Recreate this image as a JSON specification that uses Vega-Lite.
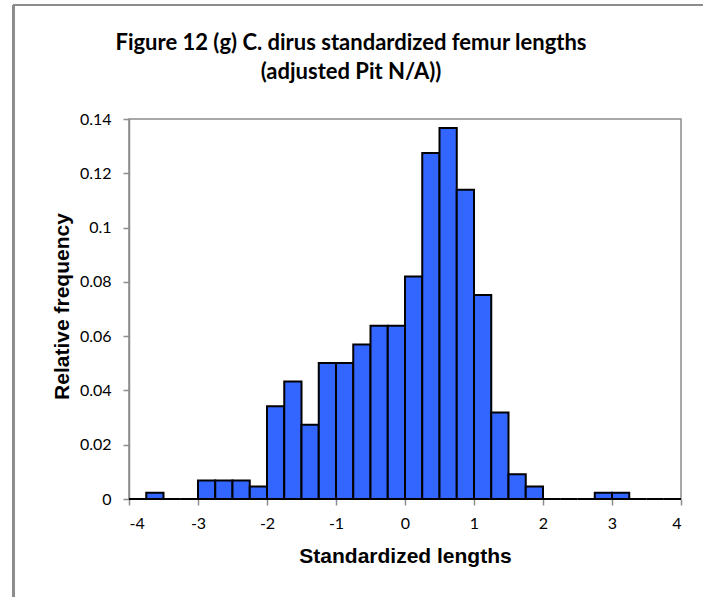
{
  "$schema": "https://vega.github.io/schema/vega-lite/v6.json",
  "width": 552,
  "height": 380,
  "autosize": {"type": "none"},
  "padding": {"left": 129, "top": 119, "right": 22, "bottom": 98},
  "background": "white",
  "config": {
    "view": {"stroke": "#8c8c8c", "strokeWidth": 1.5},
    "axis": {"grid": false, "domainColor": "#8c8c8c", "tickColor": "#8c8c8c", "domainWidth": 1.5, "tickWidth": 1.5, "labelFont": "Lato", "labelFontSize": 16, "labelColor": "black", "titleFont": "Liberation Sans", "titleFontSize": 21, "titleFontWeight": "bold", "titleColor": "black"}
  },
  "title": {
    "text": ["Figure 12 (g) C. dirus standardized femur lengths", "(adjusted Pit N/A))"],
    "font": "Lato",
    "fontSize": 22,
    "fontWeight": "bold",
    "color": "black",
    "anchor": "middle",
    "frame": "group",
    "baseline": "alphabetic",
    "dx": -54,
    "offset": -97,
    "lineHeight": 29
  },
  "data": {
    "values": [
      {"start": -4.0, "end": -3.75, "freq": 0},
      {"start": -3.75, "end": -3.5, "freq": 0.0023},
      {"start": -3.5, "end": -3.25, "freq": 0},
      {"start": -3.25, "end": -3.0, "freq": 0},
      {"start": -3.0, "end": -2.75, "freq": 0.0068},
      {"start": -2.75, "end": -2.5, "freq": 0.0068},
      {"start": -2.5, "end": -2.25, "freq": 0.0068},
      {"start": -2.25, "end": -2.0, "freq": 0.0046},
      {"start": -2.0, "end": -1.75, "freq": 0.0342},
      {"start": -1.75, "end": -1.5, "freq": 0.0433},
      {"start": -1.5, "end": -1.25, "freq": 0.0274},
      {"start": -1.25, "end": -1.0, "freq": 0.0501},
      {"start": -1.0, "end": -0.75, "freq": 0.0501},
      {"start": -0.75, "end": -0.5, "freq": 0.0569},
      {"start": -0.5, "end": -0.25, "freq": 0.0638},
      {"start": -0.25, "end": 0.0, "freq": 0.0638},
      {"start": 0.0, "end": 0.25, "freq": 0.0820},
      {"start": 0.25, "end": 0.5, "freq": 0.1275},
      {"start": 0.5, "end": 0.75, "freq": 0.1367},
      {"start": 0.75, "end": 1.0, "freq": 0.1139},
      {"start": 1.0, "end": 1.25, "freq": 0.0752},
      {"start": 1.25, "end": 1.5, "freq": 0.0319},
      {"start": 1.5, "end": 1.75, "freq": 0.0091},
      {"start": 1.75, "end": 2.0, "freq": 0.0046},
      {"start": 2.0, "end": 2.25, "freq": 0},
      {"start": 2.25, "end": 2.5, "freq": 0},
      {"start": 2.5, "end": 2.75, "freq": 0},
      {"start": 2.75, "end": 3.0, "freq": 0.0023},
      {"start": 3.0, "end": 3.25, "freq": 0.0023},
      {"start": 3.25, "end": 3.5, "freq": 0},
      {"start": 3.5, "end": 3.75, "freq": 0},
      {"start": 3.75, "end": 4.0, "freq": 0}
    ]
  },
  "layer": [
    {
      "mark": {"type": "rect", "fill": "#3366FF", "stroke": "black", "strokeWidth": 2},
      "encoding": {
        "x": {
          "field": "start", "type": "quantitative",
          "scale": {"domain": [-4, 4], "nice": false, "zero": false},
          "axis": {"values": [-4, -3, -2, -1, 0, 1, 2, 3, 4], "labelExpr": "'' + datum.value", "title": "Standardized lengths", "tickSize": 6, "labelPadding": 10, "titleX": 276, "titleY": 57, "titleBaseline": "middle", "domain": false}
        },
        "x2": {"field": "end"},
        "y": {
          "field": "freq", "type": "quantitative",
          "scale": {"domain": [0, 0.14], "nice": false},
          "axis": {"values": [0, 0.02, 0.04, 0.06, 0.08, 0.1, 0.12, 0.14], "labelExpr": "'' + datum.value", "title": "Relative frequency", "tickSize": 6, "labelPadding": 12, "titleX": -67, "titleY": 187, "titleBaseline": "middle", "titleAngle": -90}
        },
        "y2": {"datum": 0}
      }
    },
    {
      "mark": {"type": "rule", "color": "#8c8c8c", "strokeWidth": 2},
      "encoding": {
        "x": {"datum": -5.68},
        "y": {"datum": 0.182},
        "y2": {"datum": -0.037}
      }
    },
    {
      "mark": {"type": "rule", "color": "#8c8c8c", "strokeWidth": 2},
      "encoding": {
        "x": {"datum": -5.68},
        "x2": {"datum": 4.33},
        "y": {"datum": 0.182}
      }
    }
  ]
}
